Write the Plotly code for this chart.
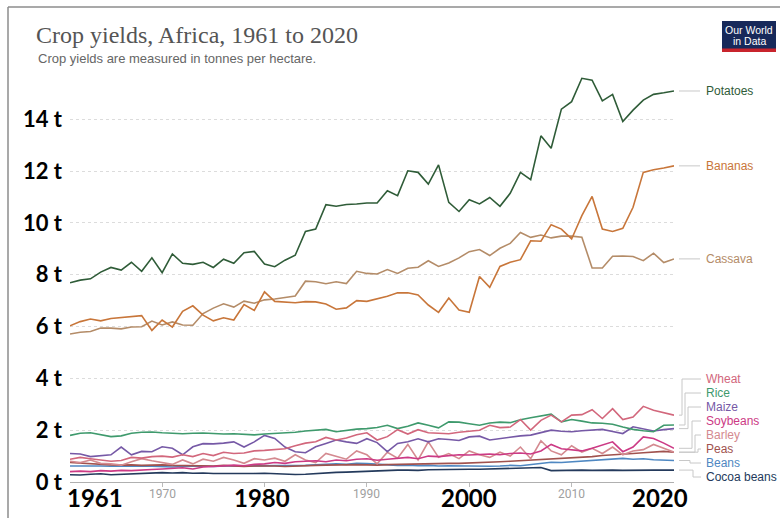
import plotly.graph_objects as go

years = list(range(1961, 2021))

potatoes = [7.69, 7.79, 7.84, 8.10, 8.28, 8.18, 8.48, 8.13, 8.65, 8.08,
            8.80, 8.44, 8.40, 8.48, 8.28, 8.60, 8.44, 8.85, 8.90, 8.41,
            8.31, 8.56, 8.75, 9.67, 9.76, 10.70, 10.64, 10.71, 10.73, 10.77,
            10.77, 11.24, 11.05, 12.01, 11.95, 11.50, 12.24, 10.79, 10.44, 10.89,
            10.73, 10.98, 10.64, 11.14, 11.95, 11.67, 13.36, 12.88, 14.39, 14.68,
            15.58, 15.51, 14.71, 14.96, 13.91, 14.35, 14.74, 14.96, 15.02, 15.09]

bananas = [6.03, 6.19, 6.29, 6.22, 6.31, 6.35, 6.39, 6.42, 5.85, 6.25,
           5.98, 6.59, 6.80, 6.44, 6.22, 6.34, 6.25, 6.85, 6.62, 7.34,
           6.97, 6.94, 6.92, 6.96, 6.95, 6.87, 6.67, 6.72, 7.00, 6.97,
           7.06, 7.17, 7.30, 7.30, 7.22, 6.83, 6.55, 7.10, 6.64, 6.55,
           7.93, 7.51, 8.32, 8.48, 8.58, 9.31, 9.29, 9.93, 9.76, 9.38,
           10.28, 11.02, 9.76, 9.67, 9.79, 10.60, 11.95, 12.05, 12.12, 12.20]

cassava = [5.71, 5.78, 5.81, 5.94, 5.94, 5.91, 5.98, 5.99, 6.21, 6.06,
           6.18, 6.06, 6.05, 6.50, 6.71, 6.88, 6.75, 6.98, 6.90, 7.03,
           7.06, 7.13, 7.18, 7.75, 7.73, 7.65, 7.73, 7.66, 8.13, 8.05,
           8.03, 8.20, 8.05, 8.25, 8.29, 8.54, 8.32, 8.45, 8.65, 8.89,
           8.97, 8.74, 9.02, 9.21, 9.63, 9.44, 9.53, 9.42, 9.49, 9.49,
           9.45, 8.26, 8.26, 8.71, 8.72, 8.70, 8.54, 8.83, 8.47, 8.61]

wheat = [0.88, 0.95, 0.90, 0.85, 0.80, 0.83, 0.95, 0.92, 0.98, 1.00,
         0.96, 1.05, 0.98, 1.10, 1.02, 1.15, 1.10, 1.12, 1.20, 1.22,
         1.25, 1.28, 1.40, 1.50, 1.55, 1.72, 1.62, 1.70, 1.82, 1.90,
         1.62, 1.75, 2.02, 1.85, 2.02, 1.90, 1.88, 1.86, 1.92, 1.95,
         2.00, 2.19, 2.10, 2.12, 2.41, 2.00, 2.38, 2.58, 2.32, 2.58,
         2.60, 2.79, 2.45, 2.83, 2.41, 2.51, 2.92, 2.77, 2.68, 2.58]

rice = [1.80, 1.88, 1.90, 1.82, 1.75, 1.78, 1.88, 1.92, 1.93, 1.90,
        1.88, 1.86, 1.88, 1.89, 1.87, 1.85, 1.86, 1.84, 1.82, 1.85,
        1.87, 1.88, 1.92, 1.97, 1.99, 2.03, 1.94, 2.00, 2.04, 2.06,
        2.10, 2.19, 2.06, 2.15, 2.28, 2.19, 2.09, 2.32, 2.31, 2.25,
        2.19, 2.28, 2.31, 2.29, 2.40, 2.48, 2.55, 2.62, 2.32, 2.41,
        2.35, 2.28, 2.27, 2.23, 2.12, 2.03, 1.98, 1.94, 2.19, 2.20]

maize = [1.10, 1.08, 0.98, 1.02, 1.05, 1.35, 1.05, 1.18, 1.17, 1.36,
         1.30, 1.05, 1.36, 1.48, 1.47, 1.50, 1.55, 1.35, 1.55, 1.80,
         1.68, 1.35, 1.17, 1.13, 1.36, 1.49, 1.62, 1.55, 1.49, 1.67,
         1.52, 1.17, 1.49, 1.55, 1.67, 1.55, 1.67, 1.64, 1.60, 1.74,
         1.77, 1.62, 1.68, 1.74, 1.78, 1.81, 1.90, 2.00, 1.96, 1.94,
         1.98, 2.00, 2.03, 1.95, 1.87, 2.13, 2.05, 1.97, 2.02, 2.06]

soybeans = [0.40, 0.42, 0.40, 0.44, 0.42, 0.45, 0.44, 0.47, 0.48, 0.50,
            0.52, 0.55, 0.50, 0.58, 0.60, 0.62, 0.65, 0.63, 0.68, 0.70,
            0.75, 0.72, 0.78, 0.80, 0.82, 0.78, 0.85, 0.82, 0.88, 0.90,
            0.84, 0.88, 0.92, 0.95, 0.90, 1.00, 0.98, 1.02, 1.05, 1.04,
            1.05, 1.08, 1.05, 1.10, 1.12, 1.08, 1.20, 1.45, 1.28, 1.25,
            1.20, 1.30, 1.42, 1.55, 1.17, 1.35, 1.74, 1.68, 1.50, 1.30]

barley = [0.80, 0.75, 0.85, 0.72, 0.70, 0.65, 0.78, 0.90, 0.82, 0.75,
          0.68, 0.85, 0.70, 0.88, 0.80, 0.95, 0.85, 0.72, 0.90, 0.85,
          0.92, 0.80, 1.05, 0.85, 0.75, 1.10, 1.00, 0.88, 1.20, 1.05,
          0.70, 1.15, 0.92, 1.45, 0.85, 1.55, 0.95, 1.10, 0.90, 1.20,
          1.05, 0.95, 1.15, 1.00, 1.35, 0.90, 1.59, 1.20, 1.05, 1.40,
          1.15, 1.30, 1.10, 1.35, 1.05, 1.20, 1.25, 1.45, 1.30, 1.15]

peas = [0.75, 0.72, 0.70, 0.68, 0.66, 0.65, 0.66, 0.64, 0.65, 0.66,
        0.64, 0.63, 0.62, 0.63, 0.62, 0.64, 0.62, 0.60, 0.62, 0.63,
        0.62, 0.60, 0.62, 0.63, 0.64, 0.65, 0.66, 0.65, 0.67, 0.66,
        0.65, 0.67, 0.68, 0.70, 0.69, 0.70, 0.71, 0.72, 0.72, 0.73,
        0.74, 0.76, 0.78, 0.80, 0.82, 0.84, 0.86, 0.88, 0.91, 0.93,
        0.96, 0.98, 1.02, 1.04, 1.07, 1.10, 1.13, 1.16, 1.18, 1.15]

beans = [0.62, 0.63, 0.62, 0.62, 0.61, 0.62, 0.63, 0.62, 0.61, 0.60,
         0.58, 0.60, 0.61, 0.62, 0.60, 0.62, 0.63, 0.62, 0.62, 0.63,
         0.63, 0.62, 0.64, 0.64, 0.66, 0.68, 0.70, 0.68, 0.72, 0.71,
         0.68, 0.66, 0.64, 0.65, 0.63, 0.64, 0.62, 0.63, 0.62, 0.61,
         0.60, 0.61, 0.62, 0.64, 0.63, 0.68, 0.72, 0.76, 0.75, 0.78,
         0.80, 0.82, 0.85, 0.88, 0.91, 0.88, 0.90, 0.86, 0.84, 0.83]

cocoa_beans = [0.28, 0.27, 0.30, 0.32, 0.28, 0.30, 0.32, 0.33, 0.34, 0.36,
               0.35, 0.36, 0.34, 0.35, 0.33, 0.33, 0.32, 0.31, 0.33, 0.34,
               0.32, 0.31, 0.29, 0.30, 0.33, 0.36, 0.37, 0.38, 0.40, 0.42,
               0.44, 0.45, 0.46, 0.46, 0.45, 0.47, 0.48, 0.47, 0.48, 0.49,
               0.49, 0.50, 0.51, 0.52, 0.53, 0.55, 0.56, 0.44, 0.45, 0.44,
               0.46, 0.45, 0.46, 0.46, 0.45, 0.46, 0.46, 0.46, 0.46, 0.46]

y_tick_values = [0, 2, 4, 6, 8, 10, 12, 14]
y_tick_labels = ["0 t", "2 t", "4 t", "6 t", "8 t", "10 t", "12 t", "14 t"]
x_major_labels = [1961, 1980, 2000, 2020]
x_minor_labels = [1970, 1990, 2010]

big_series = [
    ("Potatoes", potatoes, "#2f5c38"),
    ("Bananas", bananas, "#c8763a"),
    ("Cassava", cassava, "#b48c68"),
]
small_series = [
    ("Wheat", wheat, "#d2677c"),
    ("Rice", rice, "#3f9a6d"),
    ("Maize", maize, "#7659a6"),
    ("Soybeans", soybeans, "#cc3a85"),
    ("Barley", barley, "#d48a90"),
    ("Peas", peas, "#a0524e"),
    ("Beans", beans, "#4f88c2"),
    ("Cocoa beans", cocoa_beans, "#243a5c"),
]

# ---- layout geometry (pixels) ----
WIDTH, HEIGHT = 780, 518
L, R, T, B = 70, 674, 70, 482
PW, PH = R - L, B - T
YMAX = 15.9


def pxx(px):
    return (px - L) / PW


def pxy(py):
    return (B - py) / PH


def ydata(py):
    return (B - py) / PH * YMAX


fig = go.Figure()

for name, vals, color in small_series[::-1] + big_series[::-1]:
    fig.add_trace(go.Scatter(x=years, y=vals, mode="lines", name=name,
                             line=dict(color=color, width=1.6),
                             hoverinfo="skip", showlegend=False))

annotations = []
shapes = []

# right-hand labels for big series
for name, vals, color in big_series:
    end = vals[-1]
    shapes.append(dict(type="line", xref="paper", yref="y",
                       x0=pxx(679), x1=pxx(700), y0=end, y1=end,
                       line=dict(color="#c8c8c8", width=1)))
    annotations.append(dict(x=pxx(704), y=end, xref="paper", yref="y",
                            text=name, showarrow=False, xanchor="left",
                            yanchor="middle",
                            font=dict(family="Liberation Sans, Arial", size=12,
                                      color=color)))

# right-hand labels for small series (spread out with elbow connectors)
label_py = [379, 393, 407, 421, 435, 449, 463, 477]
elbow_px = [682, 685, 688, 692, 695, 698, 690, 693]
for (name, vals, color), lp, ex in zip(small_series, label_py, elbow_px):
    end = vals[-1]
    ly = ydata(lp)
    path = (f"M {pxx(679)},{end} L {pxx(ex)},{end} "
            f"L {pxx(ex)},{ly} L {pxx(701)},{ly}")
    shapes.append(dict(type="path", xref="paper", yref="y", path=path,
                       line=dict(color="#c8c8c8", width=1)))
    annotations.append(dict(x=pxx(704), y=ly, xref="paper", yref="y",
                            text=name, showarrow=False, xanchor="left",
                            yanchor="middle",
                            font=dict(family="Liberation Sans, Arial", size=12,
                                      color=color)))

# x-axis labels
major_shift = {1961: ("left", -5), 1980: ("center", -3),
               2000: ("center", 0), 2020: ("center", -14)}
for yr in x_major_labels:
    anc, sh = major_shift[yr]
    annotations.append(dict(x=yr, y=pxy(497), xref="x", yref="paper",
                            text=f"<b>{yr}</b>", showarrow=False,
                            xanchor=anc, yanchor="middle", xshift=sh,
                            font=dict(family="Lato, Carlito, Arial", size=24,
                                      color="#000000")))
for yr in x_minor_labels:
    annotations.append(dict(x=yr, y=pxy(494), xref="x", yref="paper",
                            text=str(yr), showarrow=False,
                            xanchor="center", yanchor="middle",
                            font=dict(family="Liberation Sans Narrow, Arial Narrow, Roboto",
                                      size=12, color="#a0a0a0")))

# subtitle
annotations.append(dict(x=pxx(36), y=pxy(58), xref="paper", yref="paper",
                        text="Crop yields are measured in tonnes per hectare.",
                        showarrow=False, xanchor="left", yanchor="middle",
                        font=dict(family="Liberation Sans, Arial", size=13,
                                  color="#666666")))

# logo
shapes.append(dict(type="rect", xref="paper", yref="paper",
                   x0=pxx(722), x1=pxx(776), y0=pxy(52), y1=pxy(21),
                   fillcolor="#17295a", line=dict(width=0)))
shapes.append(dict(type="rect", xref="paper", yref="paper",
                   x0=pxx(722), x1=pxx(776), y0=pxy(52), y1=pxy(48.5),
                   fillcolor="#c8242c", line=dict(width=0)))
for txt, py in [("Our World", 29.5), ("in Data", 41)]:
    annotations.append(dict(x=pxx(749), y=pxy(py), xref="paper", yref="paper",
                            text=txt, showarrow=False, xanchor="center",
                            yanchor="middle",
                            font=dict(family="Liberation Sans, Arial", size=10.5,
                                      color="#ffffff")))

# frame border (top and left)
shapes.append(dict(type="line", xref="paper", yref="paper",
                   x0=pxx(8), x1=pxx(781), y0=pxy(7), y1=pxy(7),
                   line=dict(color="#8c8c8c", width=1.5)))
shapes.append(dict(type="line", xref="paper", yref="paper",
                   x0=pxx(8), x1=pxx(8), y0=pxy(7), y1=pxy(519),
                   line=dict(color="#8c8c8c", width=1.5)))

fig.update_layout(
    width=WIDTH, height=HEIGHT,
    margin=dict(l=L, r=WIDTH - R, t=T, b=HEIGHT - B, autoexpand=False),
    paper_bgcolor="#ffffff", plot_bgcolor="#ffffff",
    title=dict(text="Crop yields, Africa, 1961 to 2020",
               x=36 / WIDTH, xref="container", xanchor="left",
               y=1 - 35 / HEIGHT, yref="container", yanchor="middle",
               font=dict(family="Liberation Serif, Georgia, serif", size=24,
                         color="#555555")),
    xaxis=dict(range=[1961, 2020], showgrid=False, zeroline=False,
               showline=False, ticks="outside", ticklen=4, tickcolor="#bbbbbb",
               tickvals=[1970, 1980, 1990, 2000, 2010],
               showticklabels=False, fixedrange=True),
    yaxis=dict(range=[0, YMAX], tickvals=y_tick_values, ticktext=y_tick_labels,
               tickfont=dict(family="Lato, Carlito, Arial", size=22,
                             color="#000000", weight="bold"),
               showgrid=True, gridcolor="#dcdcdc", griddash="dot", gridwidth=1,
               zeroline=True, zerolinecolor="#b0b0b0", zerolinewidth=1,
               showline=False, ticks="", ticklabelstandoff=7, fixedrange=True),
    annotations=annotations,
    shapes=shapes,
    showlegend=False,
)

fig.write_html("out.html",
               config={"displayModeBar": False, "staticPlot": True},
               post_script="document.body.style.margin='0';"
                           "document.body.style.overflow='hidden';")
